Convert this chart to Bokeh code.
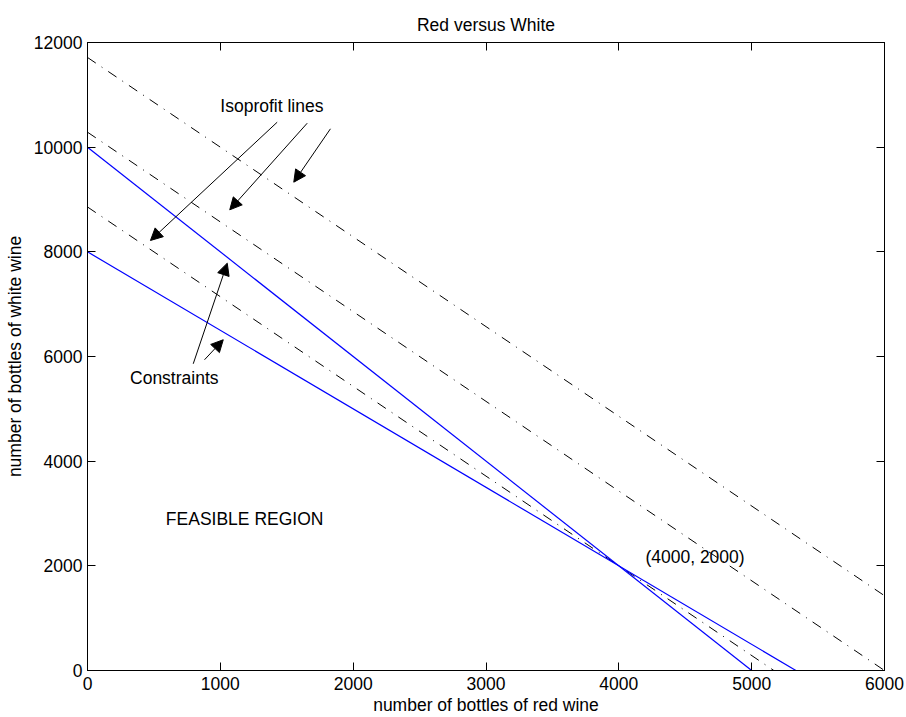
from bokeh.plotting import figure
from bokeh.models import (Range1d, LinearAxis, FixedTicker, CustomJSTickFormatter,
                          Label, Arrow, NormalHead)
from bokeh.embed import file_html
from bokeh.resources import INLINE

# ---- data ----
x_ticks = [0, 1000, 2000, 3000, 4000, 5000, 6000]
y_ticks = [0, 2000, 4000, 6000, 8000, 10000, 12000]

# constraint lines (blue)
con1_x = [0, 5000]
con1_y = [10000, 0]
con2_x = [0, 5333]
con2_y = [8000, 0]

# isoprofit lines (dash-dot)
iso1_x = [0, 5167]
iso1_y = [8857, 0]
iso2_x = [0, 6000]
iso2_y = [10286, 0]
iso3_x = [0, 6000]
iso3_y = [11714, 1429]

# annotation texts
label_texts = ["Isoprofit lines", "Constraints", "FEASIBLE REGION", "(4000, 2000)"]
label_x = [1000, 320, 590, 4200]
label_y = [10780, 5580, 2890, 2170]

# annotation arrows (start -> tip)
arrow_x0 = [1428, 1654, 1829, 796, 881]
arrow_y0 = [10477, 10458, 10351, 5861, 5938]
arrow_x1 = [474, 1071, 1553, 1052, 1022]
arrow_y1 = [8217, 8803, 9331, 7783, 6320]

FONT = "Liberation Sans"
FS = "17.5px"

p = figure(frame_width=797, frame_height=628,
           min_border_left=87, min_border_right=22, min_border_top=42, min_border_bottom=47,
           x_range=Range1d(0, 6000), y_range=Range1d(0, 12000),
           output_backend="svg", toolbar_location=None,
           x_axis_location=None, y_axis_location=None,
           title="Red versus White")
p.background_fill_color = "white"
p.border_fill_color = "white"
p.outline_line_color = "black"
p.outline_line_width = 1
p.xgrid.visible = False
p.ygrid.visible = False

p.title.align = "center"
p.title.text_font = FONT
p.title.text_font_size = FS
p.title.text_font_style = "normal"
p.title.text_color = "black"
p.title.standoff = 16


def style_axis(ax, ticks, show_labels):
    ax.ticker = FixedTicker(ticks=ticks)
    ax.major_tick_in = 8
    ax.major_tick_out = 0
    ax.minor_tick_in = 0
    ax.minor_tick_out = 0
    ax.axis_line_color = "black"
    ax.axis_line_width = 1
    ax.major_tick_line_color = "black"
    ax.major_tick_line_width = 1
    ax.major_label_text_font = FONT
    ax.major_label_text_font_size = FS
    ax.major_label_text_color = "black"
    ax.axis_label_text_font = FONT
    ax.axis_label_text_font_size = FS
    ax.axis_label_text_font_style = "normal"
    ax.axis_label_text_color = "black"
    if not show_labels:
        ax.formatter = CustomJSTickFormatter(code="return '';")
        ax.major_label_standoff = 0


xb = LinearAxis(axis_label="number of bottles of red wine")
style_axis(xb, x_ticks, True)
xb.major_label_standoff = 6
xb.axis_label_standoff = 2
p.add_layout(xb, "below")

yl = LinearAxis(axis_label="number of bottles of white wine")
style_axis(yl, y_ticks, True)
yl.major_label_standoff = 5
yl.axis_label_standoff = 6
p.add_layout(yl, "left")

xt = LinearAxis()
style_axis(xt, x_ticks, False)
p.add_layout(xt, "above")

yr = LinearAxis()
style_axis(yr, y_ticks, False)
p.add_layout(yr, "right")

# lines
DASH = "10 7 1 7"
for xs, ys in [(iso1_x, iso1_y), (iso2_x, iso2_y), (iso3_x, iso3_y)]:
    p.line(xs, ys, line_color="black", line_width=1, line_dash=DASH)
for xs, ys in [(con1_x, con1_y), (con2_x, con2_y)]:
    p.line(xs, ys, line_color="#0000ff", line_width=1.2)

# labels
for t, x, y in zip(label_texts, label_x, label_y):
    p.add_layout(Label(x=x, y=y, text=t, text_font=FONT, text_font_size=FS,
                       text_color="black", text_align="left", text_baseline="middle"))

# arrows
for x0, y0, x1, y1 in zip(arrow_x0, arrow_y0, arrow_x1, arrow_y1):
    p.add_layout(Arrow(x_start=x0, y_start=y0, x_end=x1, y_end=y1,
                       line_color="black", line_width=1,
                       end=NormalHead(size=12, fill_color="black", line_color="black",
                                      line_width=1)))

open("out.html", "w").write(file_html(p, INLINE))
